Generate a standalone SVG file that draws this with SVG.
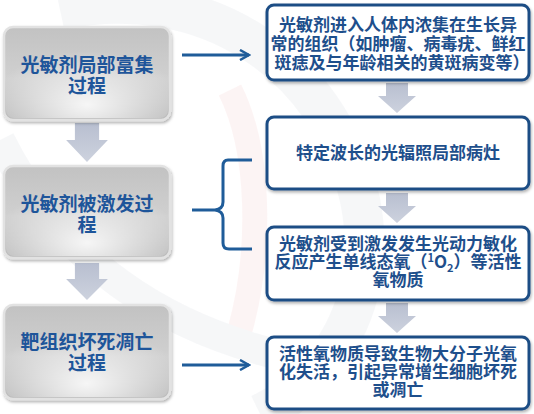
<svg xmlns="http://www.w3.org/2000/svg" width="534" height="414" viewBox="0 0 534 414">
<defs>
<linearGradient id="lg" x1="0" y1="0" x2="0" y2="1">
<stop offset="0" stop-color="#c2c2c2"/>
<stop offset="0.55" stop-color="#d0d0d0"/>
<stop offset="1" stop-color="#bbbbbb"/>
</linearGradient>
<radialGradient id="rg" cx="0.5" cy="0.85" r="0.6">
<stop offset="0" stop-color="#ffffff" stop-opacity="0.85"/>
<stop offset="1" stop-color="#ffffff" stop-opacity="0"/>
</radialGradient>
<linearGradient id="ag" x1="0" y1="0" x2="0" y2="1">
<stop offset="0" stop-color="#b8bfd0"/>
<stop offset="1" stop-color="#cdd2de"/>
</linearGradient>
<filter id="sh" x="-10%" y="-10%" width="120%" height="125%">
<feDropShadow dx="1" dy="2" stdDeviation="1.5" flood-color="#000" flood-opacity="0.3"/>
</filter>
<marker id="ah" viewBox="0 0 12 12" refX="10" refY="6" markerWidth="12" markerHeight="12" markerUnits="userSpaceOnUse" orient="auto">
<path d="M1,1 L10,6 L1,11" fill="none" stroke="#1f5c99" stroke-width="2.5"/>
</marker>
<path id="garrow" d="M-11,0 H11 V13 H19 L0,30 L-19,13 H-11 Z"/>
</defs>
<style>
.lbox{fill:url(#lg);stroke:#e2e2e2;stroke-width:2.5;filter:url(#sh)}
.lhi{fill:url(#rg)}
.rbox{fill:#ffffff;stroke:#1f4e85;stroke-width:3;filter:url(#sh)}
.lt{font-family:"Noto Sans CJK SC","Noto Sans",sans-serif;font-size:19px;font-weight:700;fill:#1e559a;text-anchor:middle}
.rt{font-family:"Noto Sans CJK SC","Noto Sans",sans-serif;font-size:17px;font-weight:700;fill:#1e4f8c;text-anchor:middle}
.conn{fill:none;stroke:#1f5c99;stroke-width:3}
.ga{fill:url(#ag)}
</style>
<rect width="534" height="414" fill="#ffffff"/>
<g opacity="0.5">
<path d="M60,10 C200,-20 330,60 360,200 C380,300 330,380 260,414" fill="none" stroke="#eef0f3" stroke-width="40"/>
<path d="M230,90 C260,150 262,250 240,330" fill="none" stroke="#fbeaea" stroke-width="25"/>
<path d="M0,140 C60,260 160,330 300,360" fill="none" stroke="#eef0f3" stroke-width="30"/>
</g>

<g id="connectors">
<path class="conn" d="M182,55 H249" marker-end="url(#ah)"/>
<path class="conn" d="M182,365 H249" marker-end="url(#ah)"/>
<path class="conn" d="M252,160 H228 Q223,160 223,166 V202 Q223,209 215,210 H192 M215,210 Q223,211 223,218 V243 Q223,249 229,249 H252"/>
<use href="#garrow" class="ga" transform="translate(87,123) scale(1.1,1.3)"/>
<use href="#garrow" class="ga" transform="translate(87,263) scale(1.1,1.23)"/>
<use href="#garrow" class="ga" transform="translate(397,83)"/>
<use href="#garrow" class="ga" transform="translate(397,193)"/>
<use href="#garrow" class="ga" transform="translate(397,303)"/>
</g>

<g id="n1">
<rect class="lbox" x="4" y="27" width="166" height="93" rx="9"/>
<rect class="lhi" x="6" y="29" width="162" height="89" rx="8"/>
<text class="lt" x="87" y="72">光敏剂局部富集<tspan x="87" dy="21">过程</tspan></text>
</g>
<g id="n2">
<rect class="lbox" x="4" y="166" width="166" height="92" rx="9"/>
<rect class="lhi" x="6" y="168" width="162" height="88" rx="8"/>
<text class="lt" x="87" y="211">光敏剂被激发过<tspan x="87" dy="21">程</tspan></text>
</g>
<g id="n3">
<rect class="lbox" x="4" y="305" width="166" height="94" rx="9"/>
<rect class="lhi" x="6" y="307" width="162" height="90" rx="8"/>
<text class="lt" x="87" y="349">靶组织坏死凋亡<tspan x="87" dy="21">过程</tspan></text>
</g>

<g id="r1">
<rect class="rbox" x="267" y="5" width="262" height="75" rx="7"/>
<text class="rt" x="398" y="31">光敏剂进入人体内浓集在生长异<tspan x="398" dy="19">常的组织（如肿瘤、病毒疣、鲜红</tspan><tspan x="402" dy="19">斑痣及与年龄相关的黄斑病变等）</tspan></text>
</g>
<g id="r2">
<rect class="rbox" x="267" y="117" width="262" height="72" rx="7"/>
<text class="rt" x="398" y="159">特定波长的光辐照局部病灶</text>
</g>
<g id="r3">
<rect class="rbox" x="267" y="227" width="262" height="73" rx="7"/>
<text class="rt" x="398" y="250">光敏剂受到激发发生光动力敏化<tspan x="398" dy="18">反应产生单线态氧（</tspan><tspan font-size="11" dy="-6">1</tspan><tspan dy="6">O</tspan><tspan font-size="11" dy="4">2</tspan><tspan dy="-4">）等活性</tspan><tspan x="398" dy="18">氧物质</tspan></text>
</g>
<g id="r4">
<rect class="rbox" x="267" y="337" width="262" height="72" rx="7"/>
<text class="rt" x="398" y="360">活性氧物质导致生物大分子光氧<tspan x="398" dy="18">化失活，引起异常增生细胞坏死</tspan><tspan x="398" dy="18">或凋亡</tspan></text>
</g>
</svg>
